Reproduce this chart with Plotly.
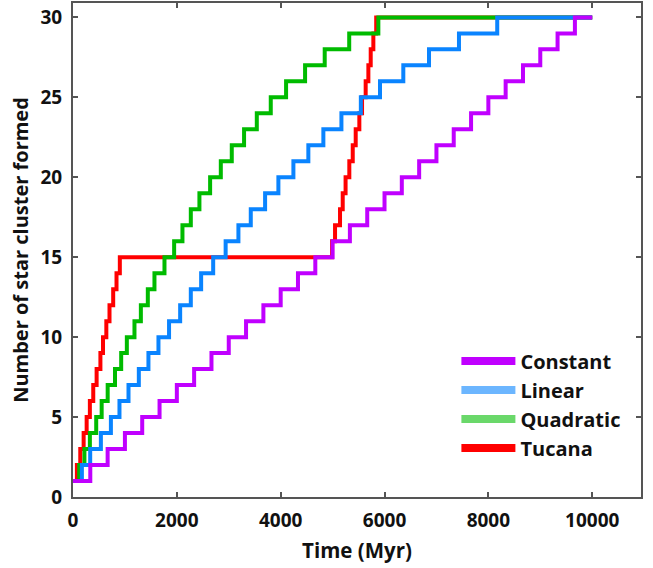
import plotly.graph_objects as go

# Step times (Myr) at which the cumulative number of clusters increases by one
levels = list(range(1, 31))

constant_t = [0, 333, 667, 1000, 1333, 1667, 2000, 2333, 2667, 3000, 3333, 3667, 4000, 4333,
              4667, 5000, 5333, 5667, 6000, 6333, 6667, 7000, 7333, 7667, 8000, 8333, 8667,
              9000, 9333, 9667]
linear_t = [0, 171, 331, 537, 730, 895, 1069, 1268, 1453, 1646, 1850, 2064, 2269, 2468,
            2700, 2940, 3186, 3424, 3700, 3956, 4245, 4533, 4822, 5170, 5544, 5913, 6362,
            6857, 7434, 8171]
quadratic_t = [0, 119, 220, 325, 447, 552, 668, 809, 928, 1037, 1184, 1307, 1441, 1569,
               1762, 1948, 2108, 2269, 2435, 2641, 2847, 3058, 3295, 3540, 3809, 4104,
               4470, 4848, 5320, 5881]
tucana_t = [0, 75, 140, 205, 263, 325, 390, 455, 528, 578, 642, 703, 774, 838, 902,
            4990, 5047, 5143, 5195, 5250, 5322, 5388, 5445, 5515, 5567, 5637, 5689,
            5734, 5785, 5840]
t_end = 10000

x_ticks = [0, 2000, 4000, 6000, 8000, 10000]
x_tick_text = ["0", "2000", "4000", "6000", "8000", "10000"]
y_ticks = [0, 5, 10, 15, 20, 25, 30]

series_names = ["Constant", "Linear", "Quadratic", "Tucana"]
line_colors = ["#c000ff", "#0a84ff", "#00bb00", "#ff0000"]
legend_colors = ["#c000ff", "#6cb6ff", "#6ad86a", "#ff0000"]
series_times = [constant_t, linear_t, quadratic_t, tucana_t]

fig = go.Figure()

# draw order: Tucana (bottom), Quadratic, Linear, Constant (top)
for i in [3, 2, 1, 0]:
    t = series_times[i]
    fig.add_trace(go.Scatter(
        x=t + [t_end], y=levels + [levels[-1]],
        mode="lines", line=dict(color=line_colors[i], width=4, shape="hv"),
        name=series_names[i], showlegend=False, hoverinfo="x+y+name"))

# legend entries
for i in range(4):
    fig.add_trace(go.Scatter(
        x=[None], y=[None], mode="lines",
        line=dict(color=legend_colors[i], width=8),
        name=series_names[i], showlegend=True))

font_family = "Open Sans, DejaVu Sans, sans-serif"
axis_common = dict(
    showline=True, linewidth=2, linecolor="#555555", mirror="ticks",
    ticks="inside", ticklen=5, tickwidth=1.5, tickcolor="#555555",
    showgrid=False, zeroline=False, automargin=False,
    tickfont=dict(family=font_family, size=19, color="#111111", weight="bold"),
)

fig.update_layout(
    width=653, height=568,
    margin=dict(l=73, r=12, t=3, b=71),
    paper_bgcolor="white", plot_bgcolor="white",
    xaxis=dict(range=[0, 10940], tickvals=x_ticks, ticktext=x_tick_text,
               title=dict(text="Time (Myr)", standoff=12,
                          font=dict(family=font_family, size=20.5, color="#111111", weight="bold")),
               ticklabelstandoff=5, **axis_common),
    yaxis=dict(range=[0, 30.9], tickvals=y_ticks,
               title=dict(text="Number of star cluster formed", standoff=6,
                          font=dict(family=font_family, size=20, color="#111111", weight="bold")),
               ticklabelstandoff=5, **axis_common),
    legend=dict(x=0.675, y=0.187, xanchor="left", yanchor="middle",
                bgcolor="rgba(0,0,0,0)", borderwidth=0, itemwidth=54,
                font=dict(family=font_family, size=20, color="#111111", weight="bold"),
                traceorder="normal"),
)

fig.write_html("out.html", config={"displayModeBar": False},
               post_script="document.body.style.margin='0px';")
